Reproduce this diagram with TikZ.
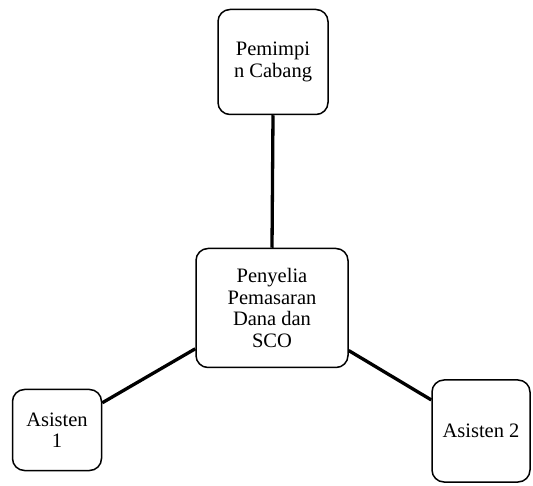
\documentclass[tikz,border=0pt]{standalone}
\usepackage{fontspec}
\setmainfont{Liberation Serif}
\begin{document}
\begin{tikzpicture}[x=1pt,y=1pt,
  box/.style={draw,rounded corners=12pt,line width=1.5pt,align=center,inner sep=2pt,
    font=\fontsize{20.5}{21.5}\selectfont},
  link/.style={line width=3.3pt}]
  \useasboundingbox (0,0) rectangle (533,485);
  \draw(273,423) node[box,minimum width=110,minimum height=105] (P) {Pemimpi\\n Cabang};
  \draw(272,177) node[box,minimum width=152,minimum height=119] (S) {Penyelia\\Pemasaran\\Dana dan\\SCO};
  \draw(57,55) node[box,minimum width=89,minimum height=81] (A1) {Asisten\\1};
  \draw(481,54) node[box,minimum width=98,minimum height=102] (A2) {Asisten 2};
  \draw[link] (P.south) -- (S.north);
  \draw[link] (S.208) -- (A1.31);
  \draw[link] (S.331) -- (A2.148);
\end{tikzpicture}
\end{document}
